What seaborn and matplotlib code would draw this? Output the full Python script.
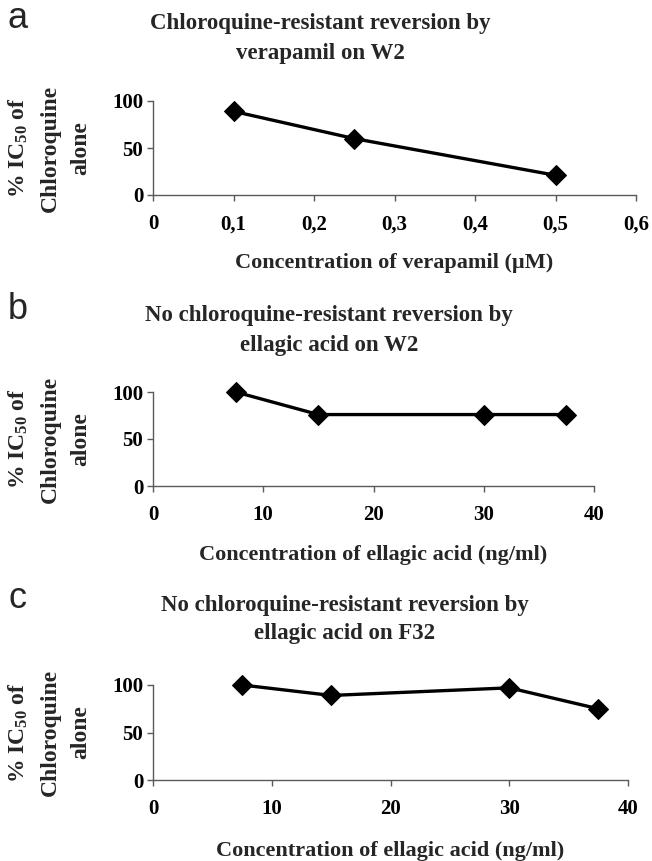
import matplotlib
matplotlib.use("Agg")
import matplotlib.pyplot as plt
import seaborn as sns
import pandas as pd

# ---- data ----
conc_verapamil = [0.1, 0.25, 0.5]
pct_a = [89, 60, 21]
conc_ellagic_b = [7.5, 15, 30, 37.5]
pct_b = [100, 76, 76, 76]
conc_ellagic_c = [7.5, 15, 30, 37.5]
pct_c = [100, 89, 97, 75]

xticks_a = [0, 0.1, 0.2, 0.3, 0.4, 0.5, 0.6]
xticklabels_a = ["0", "0,1", "0,2", "0,3", "0,4", "0,5", "0,6"]
xticks_bc = [0, 10, 20, 30, 40]
xticklabels_bc = ["0", "10", "20", "30", "40"]
yticks = [0, 50, 100]
yticklabels = ["0", "50", "100"]

panel_letters = ["a", "b", "c"]
titles = [
    ["Chloroquine-resistant reversion by", "verapamil on W2"],
    ["No chloroquine-resistant reversion by", "ellagic acid on W2"],
    ["No chloroquine-resistant reversion by", "ellagic acid on F32"],
]
xlabels = [
    "Concentration of verapamil (\u00b5M)",
    "Concentration of ellagic acid (ng/ml)",
    "Concentration of ellagic acid (ng/ml)",
]
ylabel_lines = [r"% IC$_{\mathbf{50}}$ of", "Chloroquine", "alone"]

sns.set_style("ticks")
plt.rcParams["font.family"] = ["Liberation Serif", "DejaVu Serif"]
plt.rcParams["font.weight"] = "bold"
plt.rcParams["mathtext.fontset"] = "custom"
plt.rcParams["mathtext.rm"] = "Liberation Serif:bold"
plt.rcParams["mathtext.bf"] = "Liberation Serif:bold"
plt.rcParams["mathtext.it"] = "Liberation Serif:bold"

W, H = 652, 861
fig = plt.figure(figsize=(W / 100, H / 100), dpi=100)

# pixel layout (top-based y)
layouts = [
    dict(left=153, right=636, y0=195, y100=101, t1=24, t2=54, tx=320, tick=225, xl=263),
    dict(left=153, right=594, y0=486, y100=392, t1=316, t2=346, tx=329, tick=517, xl=555),
    dict(left=153, right=628, y0=780, y100=685, t1=605, t2=634, tx=345, tick=810, xl=851),
]
datasets = [
    (conc_verapamil, pct_a, xticks_a, xticklabels_a, (0, 0.6)),
    (conc_ellagic_b, pct_b, xticks_bc, xticklabels_bc, (0, 40)),
    (conc_ellagic_c, pct_c, xticks_bc, xticklabels_bc, (0, 40)),
]

spine_col = "#5a5a5a"
for i, (L, D) in enumerate(zip(layouts, datasets)):
    xs, ys, xt, xtl, xlim = D
    ax = fig.add_axes([L["left"] / W, 1 - L["y0"] / H,
                       (L["right"] - L["left"]) / W, (L["y0"] - L["y100"]) / H])
    df = pd.DataFrame({"x": xs, "y": ys})
    sns.lineplot(data=df, x="x", y="y", ax=ax, color="black", linewidth=2.4,
                 marker="D", markersize=10, markeredgecolor="black",
                 markerfacecolor="black", clip_on=False)
    ax.set_xlim(*xlim)
    ax.set_ylim(0, 100)
    ax.set_xticks(xt)
    ax.set_xticklabels(xtl)
    ax.set_yticks(yticks)
    ax.set_yticklabels(yticklabels)
    ax.set_xlabel("")
    ax.set_ylabel("")
    for s in ["top", "right"]:
        ax.spines[s].set_visible(False)
    for s in ["left", "bottom"]:
        ax.spines[s].set_color(spine_col)
        ax.spines[s].set_linewidth(1.0)
    ax.tick_params(axis="both", colors=spine_col, labelcolor="black",
                   length=4, width=1.0, labelsize=15)
    ax.tick_params(axis="x", pad=10)
    ax.tick_params(axis="y", pad=3)
    for lab in ax.get_xticklabels() + ax.get_yticklabels():
        lab.set_fontweight("bold")

    # panel letter
    fig.text(18 / W, 1 - (L["t1"] - 6) / H, panel_letters[i], family="Liberation Sans",
             fontweight="normal", fontsize=26, ha="center", va="center")
    # title
    fig.text(L["tx"] / W, 1 - L["t1"] / H, titles[i][0], fontsize=16.5,
             fontweight="bold", ha="center", va="center")
    fig.text(L["tx"] / W, 1 - L["t2"] / H, titles[i][1], fontsize=16.5,
             fontweight="bold", ha="center", va="center")
    # x label
    fig.text((L["left"] + L["right"]) / 2 / W, 1 - L["xl"] / H, xlabels[i],
             fontsize=16, fontweight="bold", ha="center", va="center")
    # y label (three rotated lines)
    yc = 1 - (L["y0"] + L["y100"]) / 2 / H
    for j, (txt, xp) in enumerate(zip(ylabel_lines, [18, 50, 81])):
        fig.text(xp / W, yc, txt, rotation=90, fontsize=17, fontweight="bold",
                 ha="center", va="center")

fig.savefig("out.png", dpi=100)
